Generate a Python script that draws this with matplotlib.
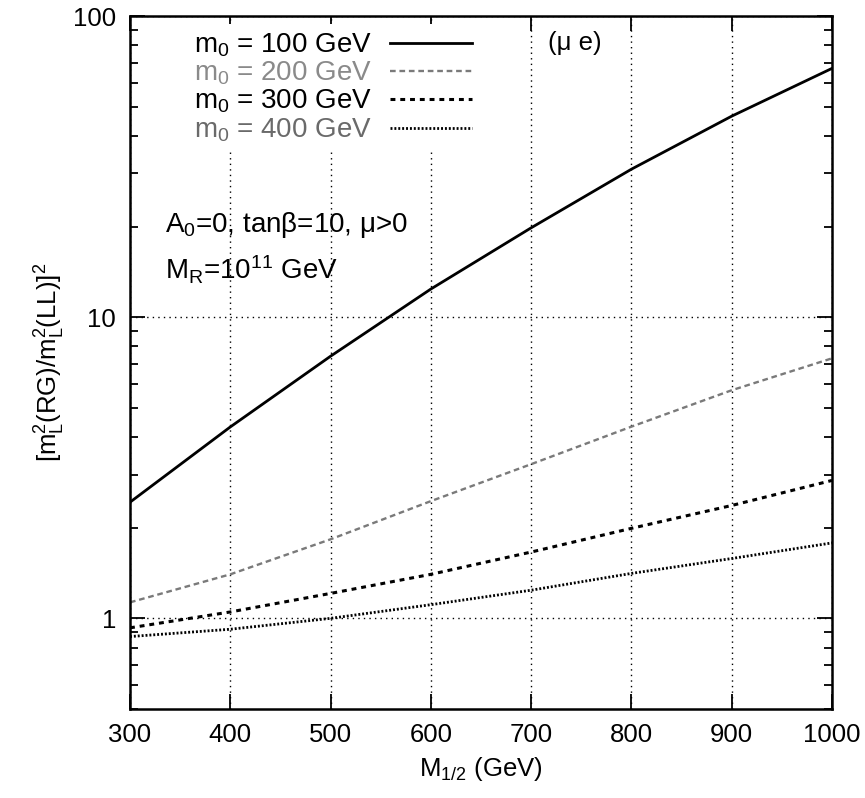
import numpy as np
import matplotlib
matplotlib.use("Agg")
import matplotlib.pyplot as plt
from matplotlib.ticker import FixedLocator, NullFormatter, FixedFormatter

plt.rcParams['font.family'] = ['Liberation Sans', 'DejaVu Sans']
plt.rcParams['mathtext.fontset'] = 'custom'
plt.rcParams['mathtext.rm'] = 'Liberation Sans'
plt.rcParams['mathtext.default'] = 'regular'

# values
m_half = [300, 400, 500, 600, 700, 800, 900, 1000]
ratio_m0_100 = [2.43, 4.32, 7.42, 12.4, 19.8, 31.0, 46.5, 67.0]
ratio_m0_200 = [1.13, 1.40, 1.83, 2.45, 3.25, 4.33, 5.72, 7.3]
ratio_m0_300 = [0.93, 1.05, 1.21, 1.40, 1.66, 1.99, 2.37, 2.87]
ratio_m0_400 = [0.87, 0.92, 1.00, 1.11, 1.24, 1.41, 1.58, 1.78]

labels = ['m$_0$ = 100 GeV', 'm$_0$ = 200 GeV', 'm$_0$ = 300 GeV', 'm$_0$ = 400 GeV']
label_colors = ['black', '#8a8a8a', 'black', '#6a6a6a']

fs = 18.5
fs_txt = 20

fig = plt.figure(figsize=(8.65, 7.98), dpi=100)
ax = fig.add_axes([130/865, 1-709/798, 702/865, 693/798])

ax.plot(m_half, ratio_m0_100, color='black', lw=2.0, ls='-', label=labels[0])
ax.plot(m_half, ratio_m0_200, color='#7a7a7a', lw=1.7, ls=(0, (2.4, 1.6)), label=labels[1])
ax.plot(m_half, ratio_m0_300, color='black', lw=2.2, ls=(0, (1.6, 1.6)), label=labels[2])
ax.plot(m_half, ratio_m0_400, color='black', lw=2.0, ls=(0, (0.7, 0.7)), label=labels[3])

ax.set_yscale('log')
ax.set_xlim(300, 1000)
ax.set_ylim(0.5, 100)

ax.set_xticks(range(300, 1001, 100))
ax.yaxis.set_major_locator(FixedLocator([1, 10, 100]))
ax.yaxis.set_major_formatter(FixedFormatter(['1', '10', '100']))
minor = [v * d for d in (0.1, 1, 10) for v in range(2, 10)]
minor = [m for m in minor if 0.5 <= m <= 100]
ax.yaxis.set_minor_locator(FixedLocator(minor))
ax.yaxis.set_minor_formatter(NullFormatter())

ax.tick_params(which='both', direction='in', top=True, right=True, labelsize=fs, width=1.3)
ax.tick_params(which='major', length=11, pad=10)
ax.tick_params(which='minor', length=6)
for s in ax.spines.values():
    s.set_linewidth(1.8)

ax.grid(True, which='major', color='black', lw=1.0, ls=(0, (1, 3)))

ax.set_xlabel('M$_{1/2}$ (GeV)', fontsize=fs, labelpad=6)
ax.set_ylabel('[m$_L^2$(RG)/m$_L^2$(LL)]$^2$', fontsize=fs, labelpad=4)

leg = ax.legend(loc='upper left', bbox_to_anchor=(0.081, 0.988), markerfirst=False,
                fontsize=fs_txt, frameon=True, handlelength=2.95, handletextpad=0.65,
                labelspacing=0.03, borderpad=0.25, borderaxespad=0)
leg.get_frame().set_edgecolor('none')
leg.get_frame().set_facecolor('white')
leg.get_frame().set_alpha(1)
for t, c in zip(leg.get_texts(), label_colors):
    t.set_color(c)

ax.text(0.595, 0.961, '(μ e)', transform=ax.transAxes, fontsize=fs, va='center', ha='left')
ax.text(0.05, 0.698, 'A$_0$=0, tanβ=10, μ>0', transform=ax.transAxes, fontsize=fs_txt,
        va='center', ha='left')
ax.text(0.05, 0.633, 'M$_R$=10$^{11}$ GeV', transform=ax.transAxes, fontsize=fs_txt,
        va='center', ha='left')

fig.savefig('out.png', dpi=100)
